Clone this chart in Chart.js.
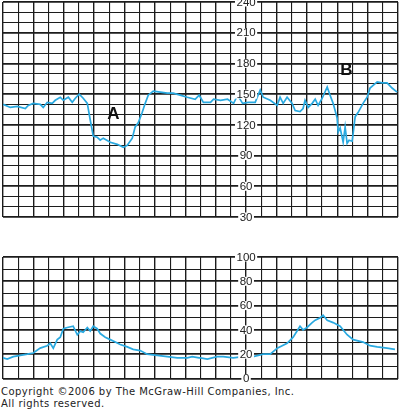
<!DOCTYPE html>
<html>
<head>
<meta charset="utf-8">
<script src="https://cdn.jsdelivr.net/npm/chart.js@4.4.1/dist/chart.umd.min.js"></script>
<style>
  html, body { margin: 0; padding: 0; background: #fff; width: 399px; height: 410px; overflow: hidden; }
  #fhr-wrap { position: absolute; left: 0; top: 0; width: 399px; height: 222px; }
  #ua-wrap { position: absolute; left: 0; top: 250px; width: 399px; height: 133px; }
  .note { position: absolute; left: 1px; font: 10px "DejaVu Sans", sans-serif; letter-spacing: 0.45px; color: #222; white-space: nowrap; }
</style>
</head>
<body>
<div id="fhr-wrap"><canvas id="fhr-chart"></canvas></div>
<div id="ua-wrap"><canvas id="ua-chart"></canvas></div>
<div class="note" style="top:386px">Copyright ©2006 by The McGraw-Hill Companies, Inc.</div>
<div class="note" style="top:398px">All rights reserved.</div>
<script>
// time runs in grid columns (0..26), same for both strips
const COLS = 26;

// --- fetal heart rate (bpm) ---
const fhrTime = [
  0.02, 0.48, 0.94, 1.47, 1.66, 1.99, 2.45, 2.65, 2.91, 3.24,
  3.44, 3.77, 3.97, 4.3, 4.56, 4.76, 5.02, 5.28, 5.55, 5.74,
  5.94, 6.2, 6.4, 6.6, 7.06, 7.52, 7.92, 8.18, 8.51, 8.7,
  8.9, 9.16, 9.36, 9.56, 9.89, 10.35, 10.81, 11.2, 11.66, 12.13,
  12.65, 12.91,
  12.99, 13.19, 13.66, 13.86, 14.32, 14.78, 15.18, 15.44, 15.77, 16.14,
  16.6, 16.93, 17.13, 17.59, 18.05, 18.24, 18.44, 18.7, 19.03, 19.23,
  19.55, 19.75, 19.88, 20.09, 20.35, 20.55, 20.74, 21.01, 21.34, 21.53,
  21.73, 21.99, 22.06, 22.19, 22.39, 22.52, 22.65, 22.78, 22.98, 23.05,
  23.18, 23.37, 23.7, 23.97, 24.16, 24.63, 24.95, 25.28, 25.61, 25.94
];
const fhrBpm = [
  140, 137, 138, 136, 139, 141, 140, 137, 142, 141,
  144, 147, 144, 147, 142, 146, 150, 146, 141, 125,
  109, 108, 105, 107, 103, 101, 98, 100, 107, 118,
  122, 132, 141, 149, 153, 152, 151, 151, 149, 147,
  145, 149,
  147, 142, 142, 145, 144, 145, 141, 149, 141, 142,
  142, 154, 147, 144, 139, 147, 141, 147, 141, 134,
  133, 136, 144, 137, 141, 145, 139, 146, 157, 149,
  141, 127, 113, 117, 103, 118, 102, 105, 104, 112,
  128, 132, 141, 147, 156, 162, 161, 161, 156, 152
];
const fhrTicks = [240, 210, 180, 150, 120, 90, 60, 30];

// --- uterine activity (mmHg) ---
const uaTime = [
  0, 0.28, 0.68, 1.14, 1.6, 1.99, 2.45, 2.91, 3.11, 3.31,
  3.57, 3.77, 3.97, 4.23, 4.62, 4.89, 5.09, 5.28, 5.55, 5.74,
  5.94, 6.2, 6.4, 6.73, 7.06, 7.39, 7.72, 8.18, 8.57, 9.03,
  9.49, 10.15, 10.81, 11.47, 12.13, 12.45, 12.91,
  12.99, 13.45, 14.1, 14.49, 15.15, 15.81, 16.47, 17.13, 17.59, 18.05,
  18.7, 19.1, 19.55, 19.75, 20.01, 20.35, 20.55, 20.88, 21.07, 21.34,
  21.73, 22.19, 22.65, 23.05, 23.7, 24.16, 24.63, 25.28, 25.8
];
const uaPressure = [
  17, 16, 18, 19, 20, 21, 25, 27, 29, 25,
  32, 34, 41, 42, 43, 36, 39, 38, 42, 39,
  43, 41, 37, 34, 32, 30, 28, 26, 24, 23,
  20, 19, 18, 17, 17, 18, 17,
  17, 16, 18, 18, 17, 18, 18, 20, 20, 25,
  29, 34, 43, 40, 42, 46, 48, 50, 52, 48,
  46, 43, 36, 32, 30, 27, 26, 25, 24
];
const uaTicks = [100, 80, 60, 40, 20, 0];

// letters marking the two decelerations
const markText = ['A', 'B'];
const markTime = [7.26, 22.6];
const markBpm = [130, 173];

const TRACE = '#29a9e0';
const GRID = '#1c1c1c';
const LABEL_COL = 16;

const stripLabels = {
  id: 'stripLabels',
  afterDatasetsDraw(chart, args, opts) {
    const { ctx, scales } = chart;
    ctx.save();
    ctx.font = '11.5px "Liberation Sans", Arial, sans-serif';
    ctx.textAlign = 'center';
    ctx.textBaseline = 'middle';
    const x = scales.x.getPixelForValue(LABEL_COL);
    for (const v of opts.ticks) {
      const y = scales.y.getPixelForValue(v);
      const w = ctx.measureText(String(v)).width;
      ctx.fillStyle = '#fff';
      ctx.fillRect(x - w / 2 - 1.5, y - 4.5, w + 3, 9);
      ctx.fillStyle = '#222';
      ctx.fillText(String(v), x, y + 0.5);
    }
    if (opts.marks) {
      ctx.font = 'bold 17px "Liberation Sans", Arial, sans-serif';
      opts.marks.text.forEach((t, i) => {
        ctx.fillStyle = '#111';
        ctx.fillText(t, scales.x.getPixelForValue(opts.marks.x[i]), scales.y.getPixelForValue(opts.marks.y[i]));
      });
    }
    ctx.restore();
  }
};

function makeStrip(canvasId, xs, ys, yMin, yMax, yStep, thickEvery, ticks, padding, marks) {
  return new Chart(document.getElementById(canvasId), {
    type: 'line',
    data: {
      datasets: [{
        data: xs.map((x, i) => ({ x, y: ys[i] })),
        borderColor: TRACE,
        borderWidth: 1.7,
        pointRadius: 0,
        tension: 0,
        fill: false,
      }],
    },
    options: {
      responsive: true,
      maintainAspectRatio: false,
      animation: false,
      layout: { padding },
      plugins: {
        legend: { display: false },
        tooltip: { enabled: false },
        stripLabels: { ticks, marks },
      },
      scales: {
        x: {
          type: 'linear', min: 0, max: COLS,
          ticks: { display: false, stepSize: 1 },
          grid: { color: GRID, lineWidth: c => (c.tick && c.tick.value % 2 === 0 ? 1.4 : 1.1), drawTicks: false },
          border: { display: false },
          afterFit: s => { s.height = 0; },
        },
        y: {
          min: yMin, max: yMax,
          ticks: { display: false, stepSize: yStep },
          grid: { color: GRID, lineWidth: c => (c.tick && c.tick.value % thickEvery === 0 ? 1.8 : 1.1), drawTicks: false },
          border: { display: false },
          afterFit: s => { s.width = 0; },
        },
      },
    },
    plugins: [stripLabels],
  });
}

makeStrip('fhr-chart', fhrTime, fhrBpm, 30, 240, 10, 30, fhrTicks,
  { left: 3, right: 1, top: 2, bottom: 5 },
  { text: markText, x: markTime, y: markBpm });
makeStrip('ua-chart', uaTime, uaPressure, 0, 100, 10, 20, uaTicks,
  { left: 3, right: 1, top: 7, bottom: 4.5 });
</script>
</body>
</html>
